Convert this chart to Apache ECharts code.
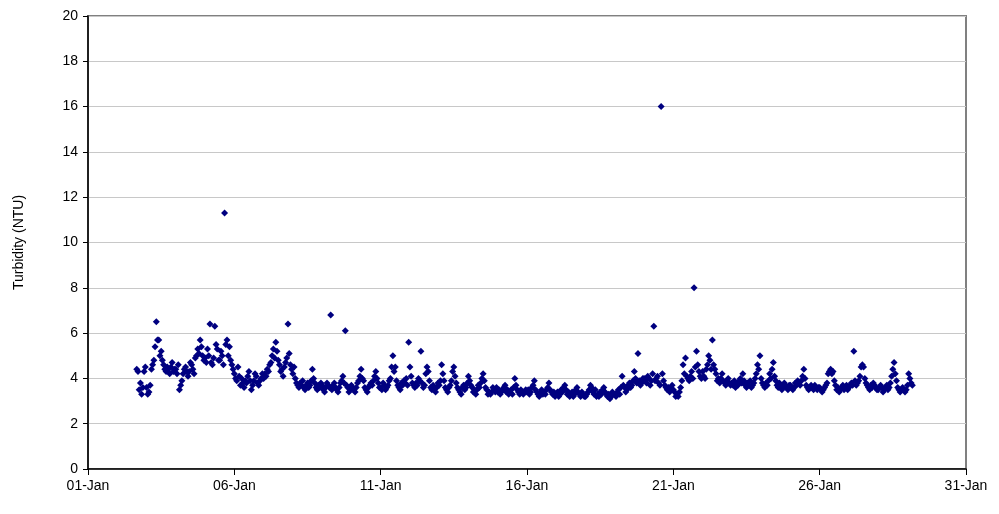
<!DOCTYPE html>
<html><head><meta charset="utf-8">
<script src="https://cdn.jsdelivr.net/npm/echarts@6/dist/echarts.min.js"></script>
<style>html,body{margin:0;padding:0;background:#fff}#c{width:999px;height:514px}</style>
</head><body><div id="c"></div>
<script>
// Hourly turbidity readings (NTU), hour 0..23 for each January day
var jan02 = [null,null,null,null,null,null,null,null,null,null,null,null,null,null,null,null,4.4,4.3,3.5,3.8,3.3,3.6,4.3,4.5];
var jan03 = [3.6,3.3,3.4,3.7,4.4,4.6,4.8,5.4,6.5,5.7,5.7,5.0,5.2,4.8,4.6,4.4,4.3,4.5,4.4,4.2,4.5,4.7,4.3,4.4];
var jan04 = [4.4,4.2,4.6,3.5,3.7,3.9,4.2,4.4,4.5,4.3,4.1,4.3,4.7,4.6,4.4,4.2,4.9,5.0,5.3,5.1,5.7,5.4,5.0,4.8];
var jan05 = [4.9,4.7,5.3,5.0,6.4,4.7,4.6,4.9,6.3,5.5,5.3,4.8,4.8,5.2,5.0,4.6,11.3,5.5,5.7,5.0,5.4,4.8,4.6,4.4];
var jan06 = [4.2,4.0,3.9,4.5,4.1,3.7,4.0,3.8,3.6,3.9,3.8,4.1,4.3,3.9,3.5,3.7,3.9,4.2,4.1,3.8,3.7,3.9,4.0,4.2];
var jan07 = [4.0,4.2,4.1,4.4,4.3,4.6,4.7,5.0,5.3,4.9,5.6,5.2,4.8,4.6,4.3,4.4,4.1,4.5,4.7,4.9,6.4,5.1,4.6,4.4];
var jan08 = [4.2,4.5,4.0,3.8,3.7,3.6,3.8,3.7,3.9,3.6,3.5,3.7,3.8,3.6,3.7,3.9,4.4,4.0,3.8,3.6,3.5,3.7,3.6,3.8];
var jan09 = [3.7,3.5,3.4,3.6,3.8,3.7,3.6,6.8,3.5,3.7,3.8,3.6,3.5,3.4,3.6,3.8,3.9,4.1,3.8,6.1,3.7,3.6,3.4,3.5];
var jan10 = [3.7,3.6,3.5,3.4,3.6,3.8,3.9,4.1,4.4,4.0,3.9,3.6,3.5,3.4,3.6,3.7,3.8,3.7,3.9,4.1,4.3,4.0,3.8,3.6];
var jan11 = [3.6,3.5,3.8,3.7,3.5,3.6,3.7,3.9,4.0,4.5,5.0,4.3,4.5,3.9,3.7,3.6,3.5,3.8,3.7,3.9,3.8,4.0,3.7,5.6];
var jan12 = [4.5,4.1,3.8,3.7,3.6,3.8,3.7,4.0,3.9,5.2,3.8,3.6,3.7,4.2,4.5,4.3,3.9,3.6,3.5,3.7,3.6,3.4,3.6,3.8];
var jan13 = [3.7,3.9,4.6,4.2,3.9,3.6,3.5,3.4,3.6,3.7,3.9,4.3,4.5,4.1,3.8,3.6,3.5,3.4,3.3,3.6,3.7,3.5,3.6,3.8];
var jan14 = [4.1,3.9,3.7,3.6,3.4,3.5,3.3,3.5,3.7,3.6,3.8,4.0,4.2,3.9,3.6,3.5,3.3,3.4,3.3,3.4,3.6,3.5,3.4,3.6];
var jan15 = [3.4,3.5,3.3,3.4,3.5,3.6,3.7,3.4,3.5,3.3,3.4,3.5,3.3,3.6,4.0,3.7,3.5,3.4,3.3,3.5,3.4,3.3,3.4,3.5];
var jan16 = [3.4,3.5,3.3,3.4,3.6,3.7,3.9,3.5,3.4,3.3,3.2,3.4,3.5,3.3,3.4,3.3,3.5,3.6,3.8,3.5,3.4,3.3,3.4,3.2];
var jan17 = [3.3,3.4,3.2,3.3,3.5,3.4,3.6,3.7,3.5,3.3,3.4,3.2,3.3,3.4,3.2,3.3,3.5,3.6,3.4,3.3,3.2,3.4,3.3,3.2];
var jan18 = [3.2,3.3,3.4,3.5,3.7,3.6,3.4,3.3,3.5,3.2,3.3,3.2,3.4,3.3,3.5,3.6,3.4,3.3,3.2,3.3,3.1,3.2,3.4,3.3];
var jan19 = [3.3,3.2,3.4,3.5,3.3,3.6,4.1,3.7,3.6,3.4,3.5,3.7,3.8,3.6,3.7,3.9,4.3,4.0,3.8,5.1,3.9,3.7,3.8,4.0];
var jan20 = [4.0,3.9,3.8,4.1,4.0,3.7,3.9,4.2,6.3,3.9,4.0,4.1,3.8,3.7,16.0,4.2,3.9,3.7,3.6,3.5,3.6,3.4,3.5,3.7];
var jan21 = [3.5,3.4,3.2,3.3,3.2,3.4,3.6,3.9,4.6,4.2,4.9,4.1,4.0,3.9,4.1,4.3,4.0,8.0,4.5,5.2,4.6,4.3,4.1,4.0];
var jan22 = [4.3,4.1,4.0,4.4,4.6,5.0,4.8,4.4,5.7,4.6,4.4,4.2,3.9,4.0,3.8,4.0,4.2,3.9,3.8,3.7,3.9,4.0,3.8,3.7];
var jan23 = [3.8,3.7,3.9,3.6,3.8,3.7,3.9,4.0,3.8,4.2,3.9,3.7,3.6,3.8,3.7,3.9,3.6,3.7,3.8,4.0,4.2,4.6,4.4,5.0];
var jan24 = [4.0,3.8,3.7,3.6,3.8,3.7,3.9,4.2,4.0,4.4,4.7,4.1,3.9,3.7,3.6,3.8,3.7,3.5,3.6,3.8,3.7,3.6,3.5,3.7];
var jan25 = [3.7,3.6,3.5,3.6,3.8,3.7,3.9,3.8,3.7,3.9,4.1,4.4,4.0,3.7,3.6,3.5,3.6,3.7,3.6,3.5,3.7,3.6,3.5,3.6];
var jan26 = [3.6,3.5,3.4,3.5,3.6,3.7,3.8,4.2,4.3,4.4,4.2,4.3,3.9,3.7,3.5,3.6,3.4,3.5,3.6,3.7,3.5,3.6,3.7,3.5];
var jan27 = [3.6,3.7,3.8,3.7,5.2,3.9,3.7,3.8,3.9,4.1,4.5,4.6,4.5,4.0,3.8,3.7,3.6,3.5,3.7,3.6,3.8,3.7,3.6,3.5];
var jan28 = [3.5,3.6,3.7,3.6,3.4,3.5,3.6,3.7,3.5,3.6,3.8,4.1,4.4,4.7,4.2,3.9,3.6,3.5,3.4,3.5,3.6,3.5,3.4,3.5];
var jan29 = [3.7,4.2,4.0,3.8,3.7];

var days = [2,3,4,5,6,7,8,9,10,11,12,13,14,15,16,17,18,19,20,21,22,23,24,25,26,27,28,29];
var dayArrays = [jan02,jan03,jan04,jan05,jan06,jan07,jan08,jan09,jan10,jan11,jan12,jan13,jan14,jan15,jan16,jan17,jan18,jan19,jan20,jan21,jan22,jan23,jan24,jan25,jan26,jan27,jan28,jan29];
var yTicks = [0,2,4,6,8,10,12,14,16,18,20];

var data = [];
dayArrays.forEach(function(arr, k){
  arr.forEach(function(v, h){
    if (v !== null) data.push([(days[k]-1) + h/24, v]);
  });
});

var chart = echarts.init(document.getElementById('c'), null, {renderer:'canvas'});
var font = 'Liberation Sans, Arial, sans-serif';
chart.setOption({
  animation:false,
  grid:{left:88,right:33,top:16,bottom:45,show:true,borderColor:'#808080',borderWidth:2,backgroundColor:'transparent'},
  xAxis:{type:'value',min:0,max:30,interval:5,
    axisLine:{lineStyle:{color:'#000',width:1.5}},
    axisTick:{show:true,inside:false,length:6,lineStyle:{color:'#000'}},
    splitLine:{show:false},
    axisLabel:{color:'#000',fontFamily:font,fontSize:14,margin:10,
      formatter:function(v){var d=v+1;return (d<10?'0':'')+d+'-Jan';}}
  },
  yAxis:{type:'value',min:yTicks[0],max:yTicks[yTicks.length-1],interval:2,
    name:'Turbidity (NTU)',nameLocation:'middle',nameGap:62,nameRotate:90,
    nameTextStyle:{color:'#000',fontFamily:font,fontSize:14},
    axisLine:{show:true,lineStyle:{color:'#000',width:1.5}},
    axisTick:{show:true,inside:false,length:5,lineStyle:{color:'#000'}},
    splitLine:{show:true,lineStyle:{color:'#c8c8c8',width:1}},
    axisLabel:{color:'#000',fontFamily:font,fontSize:14,margin:10}
  },
  series:[{type:'scatter',symbol:'diamond',symbolSize:7,data:data,
    itemStyle:{color:'#000080',opacity:1}}]
});
</script></body></html>
